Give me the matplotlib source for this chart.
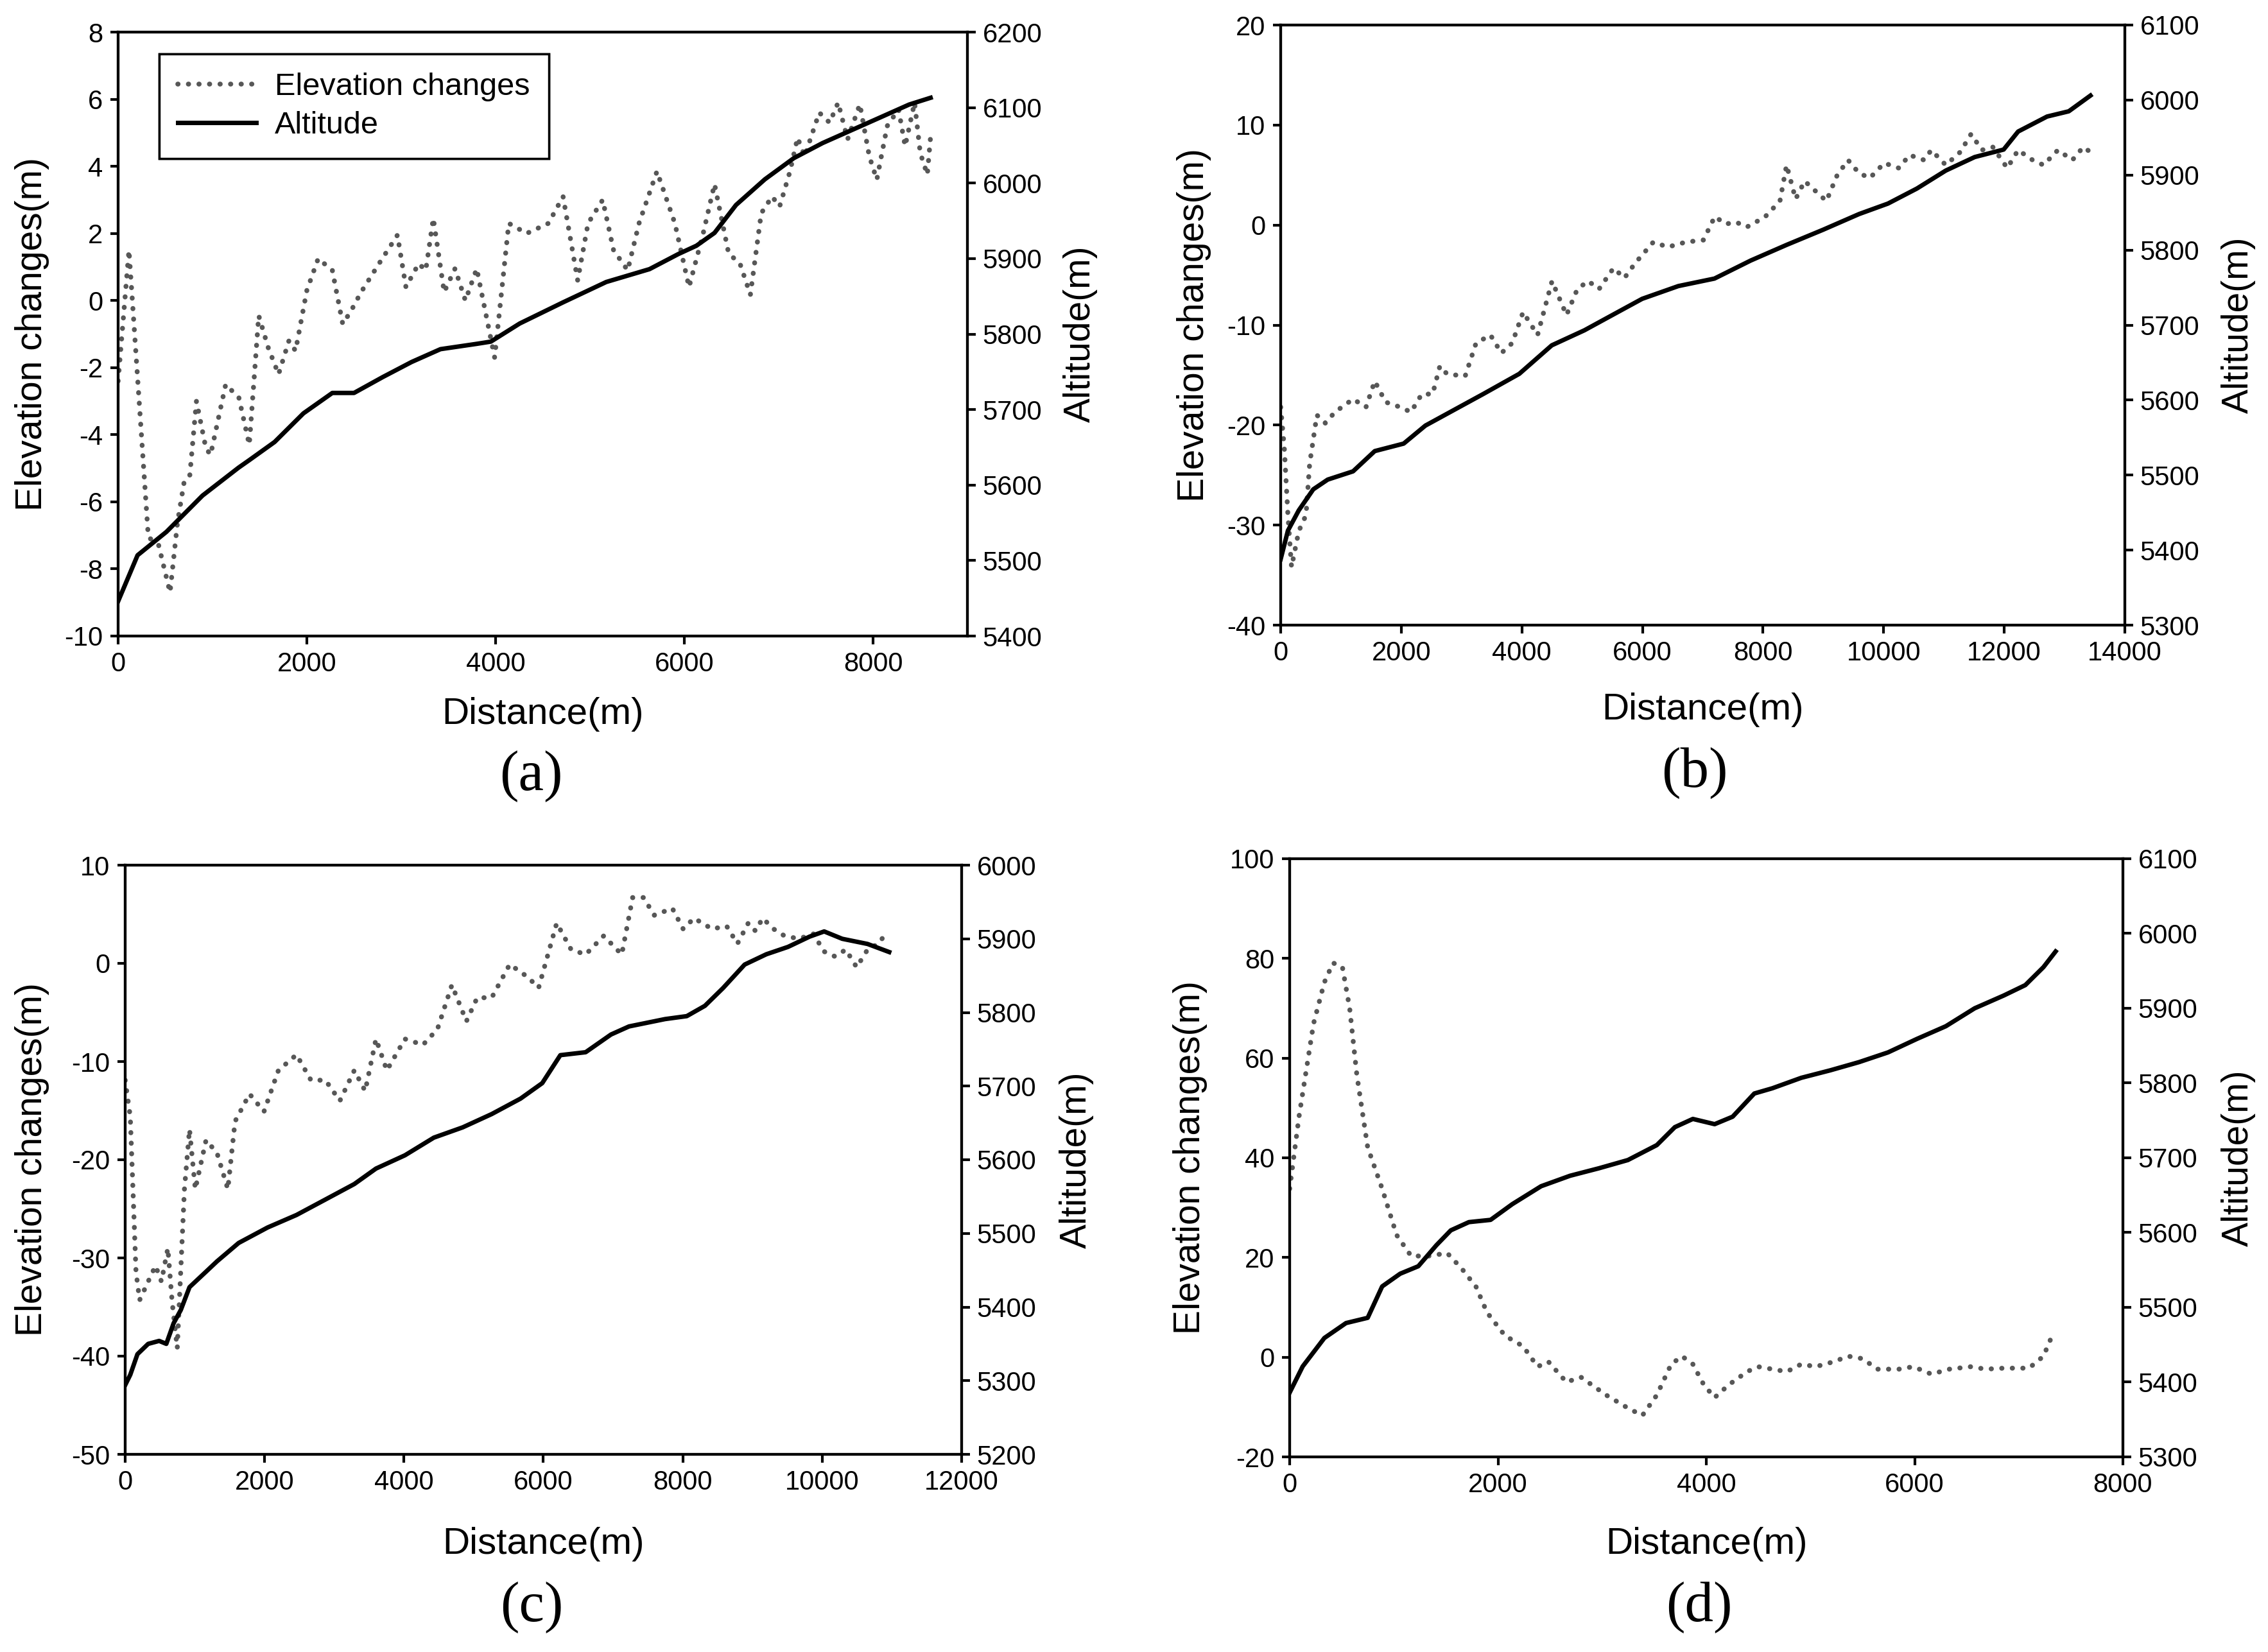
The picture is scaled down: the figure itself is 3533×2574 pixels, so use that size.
import matplotlib
matplotlib.use('Agg')
import matplotlib.pyplot as plt
import numpy as np

plt.rcParams['font.family'] = ['Liberation Sans', 'DejaVu Sans']

# ---- panel (a) ----
a_elev_x = [0, 115, 320, 430, 550, 630, 700, 760, 830, 930, 980, 1140, 1280, 1390, 1490, 1590, 1700,
            1810, 1880, 2000, 2120, 2270, 2380, 2470, 2575, 2765, 2960, 3050, 3185, 3260, 3340, 3455,
            3570, 3680, 3800, 3990, 4140, 4330, 4560, 4715, 4870, 4980, 5135, 5250, 5400, 5520, 5710,
            5900, 6050, 6200, 6320, 6470, 6590, 6700, 6815, 6930, 7010, 7120, 7200, 7275, 7430, 7540,
            7630, 7730, 7860, 7960, 8040, 8150, 8270, 8340, 8440, 8500, 8575, 8610]
a_elev_y = [-2.4, 1.5, -7.05, -7.3, -8.7, -6.6, -5.4, -5.2, -3.0, -4.4, -4.6, -2.5, -2.9, -4.3, -0.45,
            -1.4, -2.2, -1.2, -1.5, 0.3, 1.25, 0.9, -0.7, -0.3, 0.25, 1.1, 1.95, 0.4, 1.1, 0.9, 2.45,
            0.25, 0.95, 0.0, 0.95, -1.7, 2.3, 2.0, 2.3, 3.1, 0.6, 2.3, 3.0, 1.5, 0.9, 2.3, 3.85, 2.3,
            0.4, 2.0, 3.47, 1.4, 1.1, 0.17, 2.6, 3.1, 2.8, 3.85, 4.85, 4.3, 5.6, 5.3, 5.9, 4.8, 5.85,
            4.3, 3.6, 5.2, 5.7, 4.6, 5.9, 4.4, 3.75, 4.9]
a_alt_x = [0, 206, 512, 894, 1276, 1390, 1658, 1964, 2270, 2500, 2804, 3110, 3416, 3798, 3950, 4256,
           4715, 5173, 5631, 5937, 6128, 6320, 6548, 6854, 7160, 7465, 7771, 8077, 8382, 8610]
a_alt_y = [5446, 5507, 5538, 5586, 5623, 5633, 5657, 5695, 5722, 5722, 5743, 5763, 5780, 5787, 5790,
           5814, 5842, 5869, 5886, 5906, 5917, 5934, 5971, 6005, 6033, 6053, 6070, 6087, 6104, 6113]

# ---- panel (b) ----
b_elev_x = [0, 60, 120, 180, 300, 420, 480, 600, 740, 900, 1200, 1415, 1560, 1740, 1980, 2160, 2340,
            2520, 2640, 2760, 3060, 3240, 3480, 3660, 3840, 4020, 4260, 4500, 4740, 4920, 5100, 5280,
            5520, 5700, 5880, 6180, 6420, 6720, 7010, 7200, 7380, 7550, 7730, 8030, 8280, 8390, 8540,
            8690, 8870, 9050, 9230, 9410, 9590, 9770, 10010, 10250, 10430, 10670, 10790, 11030, 11270,
            11450, 11630, 11810, 12050, 12230, 12470, 12650, 12890, 13130, 13310, 13430]
b_elev_y = [-18.2, -22.3, -29.0, -34.2, -30.6, -29.0, -23.9, -19.0, -19.8, -18.7, -17.4, -18.2, -15.6,
            -17.7, -18.2, -18.7, -16.9, -16.9, -14.1, -14.9, -15.1, -11.8, -11.0, -12.8, -11.8, -8.7,
            -11.0, -5.6, -9.0, -6.4, -5.6, -6.4, -4.3, -5.3, -3.8, -1.7, -2.2, -1.7, -1.5, 0.85, 0.1,
            0.3, -0.2, 0.8, 2.4, 6.0, 2.6, 4.4, 3.4, 2.4, 5.0, 6.5, 5.2, 4.7, 6.2, 5.7, 7.0, 6.5, 7.5,
            6.0, 7.3, 9.1, 7.5, 7.8, 5.7, 7.5, 6.5, 6.0, 7.5, 6.5, 7.8, 7.3]
b_alt_x = [0, 120, 300, 540, 780, 1200, 1560, 2040, 2400, 2878, 3357, 3957, 4496, 5036, 5515, 5995,
           6595, 7194, 7794, 8393, 8993, 9592, 10072, 10551, 11031, 11510, 11990, 12230, 12710, 13070,
           13430]
b_alt_y = [5388, 5426, 5453, 5481, 5494, 5505, 5532, 5542, 5566, 5587, 5608, 5635, 5673, 5693, 5714,
           5735, 5752, 5762, 5786, 5807, 5827, 5848, 5862, 5882, 5906, 5924, 5934, 5958, 5978, 5985,
           6006]

# ---- panel (c) ----
c_elev_x = [0, 73, 155, 207, 330, 435, 520, 612, 674, 747, 850, 923, 1006, 1160, 1317, 1473, 1576,
            1784, 1991, 2198, 2458, 2665, 2873, 3080, 3287, 3443, 3598, 3754, 4013, 4272, 4480, 4687,
            4895, 5050, 5258, 5517, 5776, 5931, 6191, 6398, 6606, 6865, 7124, 7280, 7435, 7591, 7850,
            8005, 8161, 8420, 8628, 8783, 8939, 9042, 9146, 9302, 9458, 9665, 9872, 10028, 10183,
            10339, 10494, 10650, 10806, 10909]
c_elev_y = [-11.9, -15.6, -31.4, -34.3, -32.4, -30.8, -32.4, -29.0, -34.5, -39.2, -23.0, -16.9, -23.0,
            -18.0, -19.3, -23.0, -16.1, -13.3, -15.1, -10.9, -9.3, -11.9, -11.9, -14.0, -10.9, -13.0,
            -7.7, -10.9, -7.7, -8.3, -6.7, -2.2, -5.9, -3.5, -3.5, -0.1, -1.4, -2.5, 4.1, 1.4, 0.9,
            2.8, 0.9, 6.7, 6.7, 4.9, 5.6, 3.5, 4.6, 3.5, 3.8, 2.0, 4.1, 3.3, 4.6, 3.5, 2.8, 2.5, 3.0,
            1.2, 0.7, 1.4, -0.4, 1.4, 2.0, 3.0]
c_alt_x = [0, 73, 176, 330, 487, 590, 695, 798, 923, 1160, 1317, 1628, 2043, 2458, 2873, 3287, 3598,
           4013, 4428, 4843, 5258, 5672, 5983, 6243, 6606, 6969, 7228, 7746, 8057, 8317, 8576, 8887,
           9198, 9509, 9820, 10028, 10287, 10650, 10961]
c_alt_y = [5294, 5308, 5336, 5350, 5354, 5350, 5378, 5396, 5427, 5448, 5462, 5487, 5508, 5525, 5546,
           5567, 5588, 5606, 5630, 5644, 5662, 5683, 5704, 5742, 5746, 5770, 5781, 5791, 5795, 5809,
           5833, 5865, 5879, 5889, 5903, 5910, 5900, 5893, 5882]

# ---- panel (d) ----
d_elev_x = [0, 90, 229, 333, 416, 506, 576, 645, 749, 888, 1027, 1166, 1339, 1512, 1651, 1790, 1894,
            2068, 2241, 2380, 2484, 2657, 2796, 3039, 3247, 3386, 3525, 3663, 3767, 3871, 3975, 4080,
            4218, 4392, 4496, 4634, 4773, 4912, 5051, 5224, 5363, 5502, 5641, 5849, 5988, 6161, 6334,
            6542, 6681, 6855, 7098, 7237, 7340]
d_elev_y = [33.8, 48.3, 66.9, 75.2, 79.1, 78.3, 70.0, 56.6, 42.1, 33.8, 24.5, 20.3, 20.3, 20.9, 17.8,
            14.1, 9.0, 4.3, 2.2, -1.9, -0.9, -5.0, -4.0, -7.6, -10.2, -11.7, -7.6, -1.4, 0.2, -1.4,
            -5.5, -8.1, -5.5, -2.9, -1.9, -2.4, -2.9, -1.4, -1.9, -0.9, 0.2, -0.3, -2.4, -2.4, -1.9,
            -3.4, -2.4, -1.9, -2.4, -2.2, -2.2, 0.2, 5.3]
d_alt_x = [0, 125, 333, 541, 749, 888, 1061, 1235, 1408, 1547, 1721, 1929, 2137, 2414, 2692, 2969,
           3247, 3525, 3698, 3871, 4080, 4253, 4461, 4634, 4912, 5190, 5467, 5745, 6022, 6300, 6577,
           6855, 7063, 7237, 7354]
d_alt_y = [5386, 5421, 5459, 5479, 5486, 5528, 5545, 5555, 5583, 5603, 5614, 5617, 5638, 5662, 5676,
           5686, 5697, 5717, 5741, 5752, 5745, 5755, 5786, 5793, 5807, 5817, 5828, 5841, 5859, 5876,
           5900, 5917, 5931, 5955, 5976]

W, H = 3533, 2574
fig = plt.figure(figsize=(W / 100, H / 100), dpi=100)

DOT_COLOR = '#575757'
TICK_FS = 30
LABEL_FS = 41


def px_axes(l, r, t, b):
    return fig.add_axes([l / W, 1 - b / H, (r - l) / W, (b - t) / H])


def make_panel(box, ex, ey, axx, axy, xlim, xstep, ylim, ystep, alim, letter,
               ylab_l, ylab_r, xlab_y, letter_x, letter_y, legend=False):
    l, r, t, b = box
    ax = px_axes(l, r, t, b)
    ax2 = ax.twinx()
    # dotted series: tiny dashes with round caps render as dots
    line1, = ax.plot(ex, ey, color=DOT_COLOR, lw=5.5, linestyle=(0, (0.05, 2.1)),
                     dash_capstyle='round', label='Elevation changes')
    line2, = ax2.plot(axx, axy, color='black', lw=5, label='Altitude')
    ax.set_xlim(*xlim)
    ax.set_xticks(np.arange(0, xlim[1] + 1, xstep))
    ax.set_ylim(*ylim)
    ax.set_yticks(np.arange(ylim[0], ylim[1] + 0.01, ystep))
    ax2.set_ylim(*alim)
    ax2.set_yticks(np.arange(alim[0], alim[1] + 1, 100))
    for a in (ax, ax2):
        for sp in a.spines.values():
            sp.set_linewidth(3)
        a.tick_params(direction='out', length=9, width=3, labelsize=TICK_FS, pad=8)
    ax.xaxis.set_major_formatter(plt.FuncFormatter(lambda v, p: f'{int(v)}'))
    ax.yaxis.set_major_formatter(plt.FuncFormatter(lambda v, p: f'{int(v)}'))
    fig.text(ylab_l / W, 1 - (t + b) / 2 / H, 'Elevation changes(m)', rotation=90,
             ha='center', va='center', fontsize=LABEL_FS)
    fig.text(ylab_r / W, 1 - (t + b) / 2 / H, 'Altitude(m)', rotation=90,
             ha='center', va='center', fontsize=LABEL_FS)
    fig.text((l + r) / 2 / W, 1 - xlab_y / H, 'Distance(m)', ha='center', va='center',
             fontsize=LABEL_FS + 1)
    fig.text(letter_x / W, 1 - letter_y / H, letter, ha='center', va='center',
             fontsize=64, family=['Liberation Serif', 'DejaVu Serif'])
    if legend:
        leg = ax.legend(handles=[line1, line2], loc='upper left',
                        bbox_to_anchor=((248 - l) / (r - l), (b - 84) / (b - t)),
                        borderaxespad=0, fontsize=35, handlelength=2.5, handletextpad=0.6,
                        labelspacing=0.3, borderpad=0.6, fancybox=False, framealpha=1)
        leg.get_frame().set_edgecolor('black')
        leg.get_frame().set_linewidth(2.5)
        ax.add_artist(leg)
    return ax, ax2


make_panel((184, 1507, 50, 991), a_elev_x, a_elev_y, a_alt_x, a_alt_y,
           (0, 9000), 2000, (-10, 8), 2, (5400, 6200), '(a)',
           50, 1683, 1113, 827, 1210, legend=True)
make_panel((1995, 3310, 39, 974), b_elev_x, b_elev_y, b_alt_x, b_alt_y,
           (0, 14000), 2000, (-40, 20), 10, (5300, 6100), '(b)',
           1860, 3487, 1106, 2640, 1205)
make_panel((195, 1498, 1348, 2266), c_elev_x, c_elev_y, c_alt_x, c_alt_y,
           (0, 12000), 2000, (-50, 10), 10, (5200, 6000), '(c)',
           50, 1677, 2406, 828, 2505)
make_panel((2009, 3307, 1338, 2270), d_elev_x, d_elev_y, d_alt_x, d_alt_y,
           (0, 8000), 2000, (-20, 100), 20, (5300, 6100), '(d)',
           1854, 3487, 2406, 2647, 2505)

fig.savefig('out.png', dpi=100, facecolor='white')
